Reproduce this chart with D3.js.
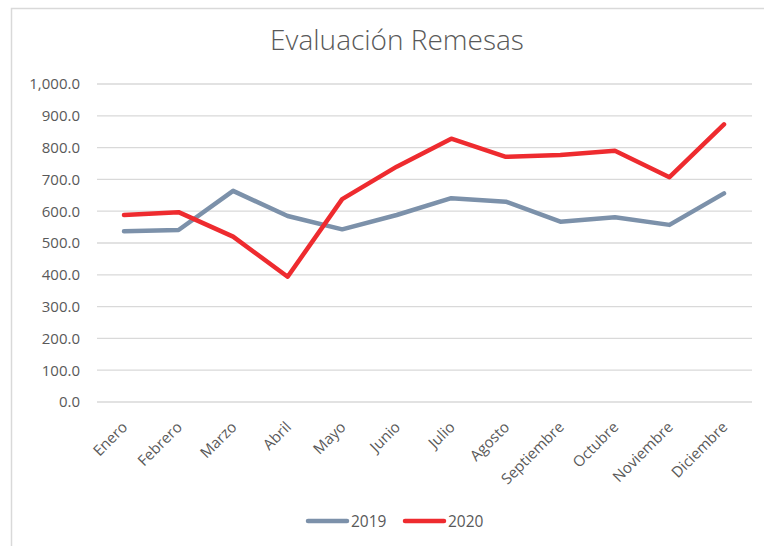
<!DOCTYPE html>
<html><head><meta charset="utf-8">
<script src="https://cdn.jsdelivr.net/npm/d3@7"></script>
<style>body{margin:0;background:#fff;}svg{display:block;}</style>
</head><body>
<svg id="c" width="764" height="546"></svg>
<script>
const months = ["Enero","Febrero","Marzo","Abril","Mayo","Junio","Julio","Agosto","Septiembre","Octubre","Noviembre","Diciembre"];
const values2019 = [537, 541, 664, 585, 543, 588, 641, 630, 567, 581, 557, 656];
const values2020 = [588, 597, 520, 394, 638, 740, 828, 771, 777, 790, 707, 873];
const seriesNames = ["2019", "2020"];
const yTicks = [0,100,200,300,400,500,600,700,800,900,1000];

(function(){
const colors = {"2019": "#7c91aa", "2020": "#ee2b2f"};
const svg = d3.select("#c");
const font = "'Open Sans', 'Liberation Sans', sans-serif";

// chart border
svg.append("path").attr("d","M11.5,546 L11.5,8.5 L764,8.5").attr("fill","none").attr("stroke","#d9d9d9").attr("stroke-width",1.5);

const pl = 97, pr = 752, pt = 84, pb = 402;
const x = d3.scalePoint().domain(months).range([124, 724]);
const y = d3.scaleLinear().domain([0, 1000]).range([pb, pt]);

// gridlines
svg.append("g").selectAll("line").data(yTicks).join("line")
  .attr("x1", pl).attr("x2", pr)
  .attr("y1", d => y(d)).attr("y2", d => y(d))
  .attr("stroke", "#d9d9d9").attr("stroke-width", 1.3);

// y axis labels
const fmt = d3.format(",.1f");
const yAxis = svg.append("g").attr("transform", `translate(${pl},0)`)
  .call(d3.axisLeft(y).tickValues(yTicks).tickFormat(fmt).tickSize(0).tickPadding(17));
yAxis.select(".domain").remove();
yAxis.selectAll("text").attr("font-family", font).attr("font-size", 15).attr("fill", "#595959");

// x axis labels
const xAxis = svg.append("g").attr("transform", `translate(0,${pb})`)
  .call(d3.axisBottom(x).tickSize(0).tickPadding(0));
xAxis.select(".domain").remove();
xAxis.selectAll("text")
  .attr("font-family", font).attr("font-size", 15).attr("fill", "#595959")
  .attr("text-anchor", "end").attr("dy", null).attr("y", 0)
  .attr("transform", "translate(4,26) rotate(-45)");

// lines
const line = d3.line().x((d, i) => x(months[i])).y(d => y(d));
[[seriesNames[0], values2019], [seriesNames[1], values2020]].forEach(([name, vals]) => {
  svg.append("path").datum(vals).attr("d", line)
    .attr("fill", "none").attr("stroke", colors[name]).attr("stroke-width", 4.5)
    .attr("stroke-linejoin", "round").attr("stroke-linecap", "round");
});

// title
svg.append("text").attr("x", 397).attr("y", 50).attr("text-anchor", "middle")
  .attr("font-family", "'Open Sans', sans-serif").attr("font-weight", 300)
  .attr("font-size", 28).attr("fill", "#595959").text("Evaluación Remesas");

// legend
const legend = [{name: seriesNames[0], x: 306}, {name: seriesNames[1], x: 403}];
legend.forEach(l => {
  svg.append("line").attr("x1", l.x + 2).attr("x2", l.x + 41).attr("y1", 521).attr("y2", 521)
    .attr("stroke", colors[l.name]).attr("stroke-width", 4.5).attr("stroke-linecap", "round");
  svg.append("text").attr("x", l.x + 45).attr("y", 527).attr("font-family", font)
    .attr("font-size", 15.5).attr("fill", "#595959").text(l.name);
});
})();
</script>
</body></html>
